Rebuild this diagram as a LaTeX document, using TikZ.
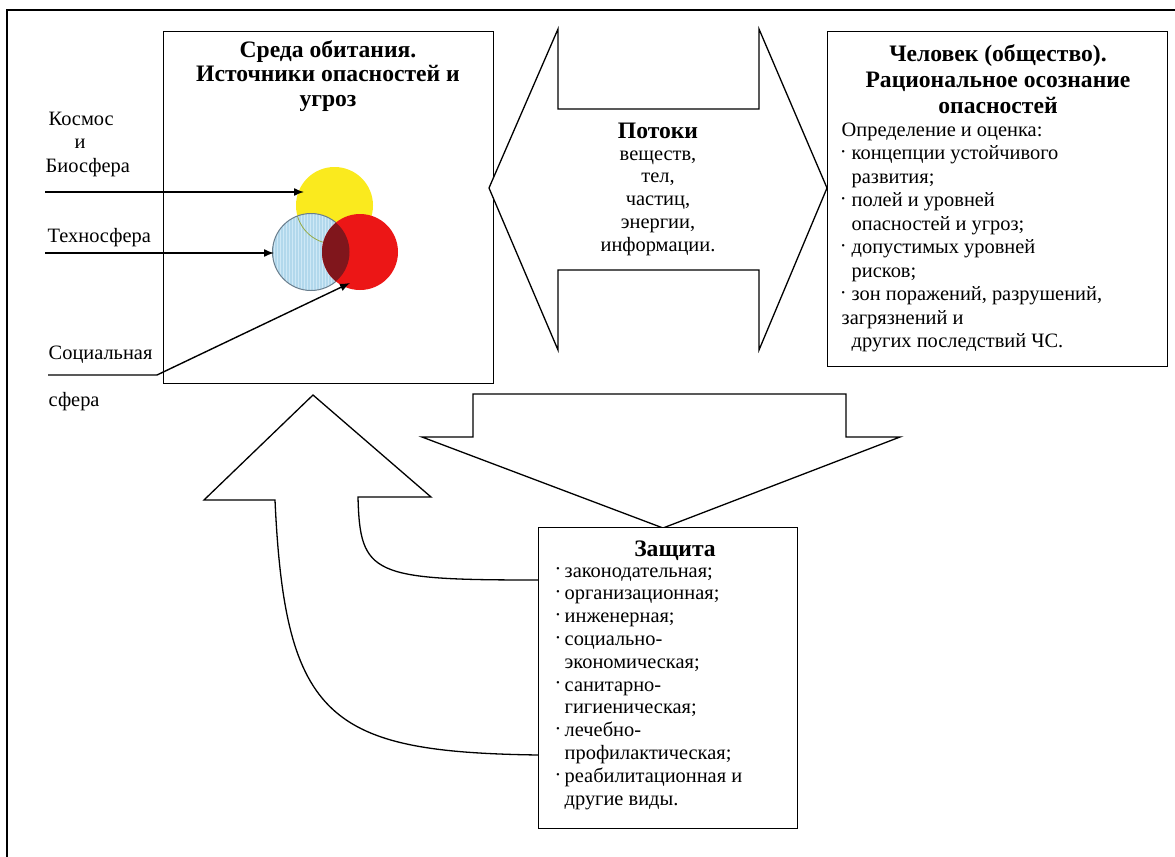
\documentclass[tikz,border=0pt]{standalone}
\usepackage{fontspec}
\setmainfont{Liberation Serif}
\usetikzlibrary{arrows.meta}
\definecolor{cyel}{RGB}{250,234,30}
\definecolor{cblue}{RGB}{178,216,236}
\definecolor{cstripe}{RGB}{206,232,246}
\definecolor{cred}{RGB}{236,22,22}
\definecolor{cdark}{RGB}{128,22,28}
\definecolor{cedge}{RGB}{105,125,140}
\definecolor{carc}{RGB}{150,170,70}
\newcommand{\bul}{\raisebox{0.05em}{·}}
\begin{document}
\begin{tikzpicture}[x=0.5pt,y=-0.5pt,
  line width=0.7pt,
  body/.style={font=\fontsize{10.2pt}{11.5pt}\selectfont, inner sep=0pt},
  ttl/.style={font=\fontsize{11.8pt}{12.5pt}\selectfont\bfseries, inner sep=0pt},
  arr/.style={-{Latex[length=5pt,width=4pt]}, line width=0.7pt},
  frameline/.style={line width=1.3pt},
  shapeline/.style={line width=0.65pt, line join=miter, fill=white},
  boxnode/.style={draw, line width=0.7pt, inner sep=0pt, anchor=north west, fill=white},
]
\useasboundingbox (0,0) rectangle (1175,857);
\fill[white] (0,0) rectangle (1175,857);
\draw[frameline] (7,857) -- (7,10) -- (1175,10);

% ---------- left box ----------
\node[boxnode, minimum width=165pt, minimum height=176pt] (sreda) at (163,31) {};
\foreach \t [count=\i] in {Среда обитания., Источники опасностей и, угроз}
  \node[ttl, anchor=base] (st\i) at (328, 57+24.5*\i-24.5) {\t};

% labels on the left
\node[body, anchor=base west] (kosmos) at (48,125) {Космос};
\node[body, anchor=base west] (kosi) at (74,148) {и};
\node[body, anchor=base west] (bio) at (45,172) {Биосфера};
\node[body, anchor=base west] (tekhno) at (47,242) {Техносфера};
\node[body, anchor=base west] (social) at (48,359) {Социальная};
\node[body, anchor=base west] (sfera) at (48,406) {сфера};

% circles
\coordinate (cy) at (334.5,205.5);
\coordinate (cb) at (311,252);
\coordinate (cr) at (360,252);
\fill[cyel] (cy) circle[radius=38.5];
\fill[cblue] (cb) circle[radius=38.5];
\begin{scope}
  \clip (cb) circle[radius=38.5];
  \foreach \x in {274,277,...,350} \draw[cstripe, line width=0.5pt] (\x,210) -- (\x,295);
  \draw[carc, line width=0.4pt] (cy) circle[radius=38.5];
\end{scope}
\draw[cedge, line width=0.5pt] (cb) circle[radius=38.5];
\fill[cred] (cr) circle[radius=38];
\begin{scope}
  \clip (cr) circle[radius=38];
  \fill[cdark] (cb) circle[radius=38.5];
\end{scope}

% connectors
\coordinate (a1s) at (45,192);
\coordinate (a1e) at (304,192);
\draw[arr] (a1s) -- (a1e);
\coordinate (a2s) at (45,253);
\coordinate (a2e) at (274,253);
\draw[arr] (a2s) -- (a2e);
\coordinate (a3s) at (48,375);
\coordinate (a3m) at (157,375);
\coordinate (a3e) at (350,283);
\draw[arr] (a3s) -- (a3m) -- (a3e);

% ---------- double arrow ----------
\draw[shapeline] (489,188) -- (558,29) -- (558,109) -- (759,109) -- (759,29) -- (827,188)
  -- (759,350) -- (759,270) -- (558,270) -- (558,350) -- cycle;
\node[ttl, anchor=base] (potoki) at (658,138) {Потоки};
\foreach \t [count=\i] in {{веществ,}, {тел,}, {частиц,}, {энергии,}, {информации.}}
  \node[body, anchor=base] (p\i) at (658, 160+22.8*\i-22.8) {\t};

% ---------- right box ----------
\node[boxnode, minimum width=170pt, minimum height=167.5pt] (chel) at (827,31) {};
\foreach \t [count=\i] in {Человек (общество)., Рациональное осознание, опасностей}
  \node[ttl, anchor=base] (ct\i) at (998, 61+26*\i-26) {\t};
\foreach \dx/\t [count=\i] in {
  0/{Определение и оценка:},
  10/{\llap{\bul\ }концепции устойчивого},
  10/{развития;},
  10/{\llap{\bul\ }полей и уровней},
  10/{опасностей и угроз;},
  10/{\llap{\bul\ }допустимых уровней},
  10/{рисков;},
  10/{\llap{\bul\ }зон поражений, разрушений,},
  0/{загрязнений и},
  10/{других последствий ЧС.}}
  \node[body, anchor=base west] (r\i) at (841+\dx, 136+23.5*\i-23.5) {\t};

% ---------- curved up arrow ----------
\draw[shapeline] (538,755) .. controls (330,752) and (285,720) .. (275,500) -- (204,500)
  -- (313,395) -- (431,497) -- (358,497) .. controls (360,575) and (372,580) .. (538,580);

% ---------- down arrow ----------
\draw[shapeline] (473,394) -- (846,394) -- (846,437) -- (900,437) -- (663,528)
  -- (422,437) -- (473,437) -- cycle;

% ---------- protection box ----------
\node[boxnode, minimum width=129.5pt, minimum height=150.5pt] (zasch) at (538,527) {};
\node[ttl, anchor=base] (zt) at (675,556) {Защита};
\foreach \t [count=\i] in {
  {\llap{\bul\,}законодательная;},
  {\llap{\bul\,}организационная;},
  {\llap{\bul\,}инженерная;},
  {\llap{\bul\,}социально-},
  {экономическая;},
  {\llap{\bul\,}санитарно-},
  {гигиеническая;},
  {\llap{\bul\,}лечебно-},
  {профилактическая;},
  {\llap{\bul\,}реабилитационная и},
  {другие виды.}}
  \node[body, anchor=base west] (z\i) at (564, 577+22.8*\i-22.8) {\t};
\end{tikzpicture}
\end{document}
